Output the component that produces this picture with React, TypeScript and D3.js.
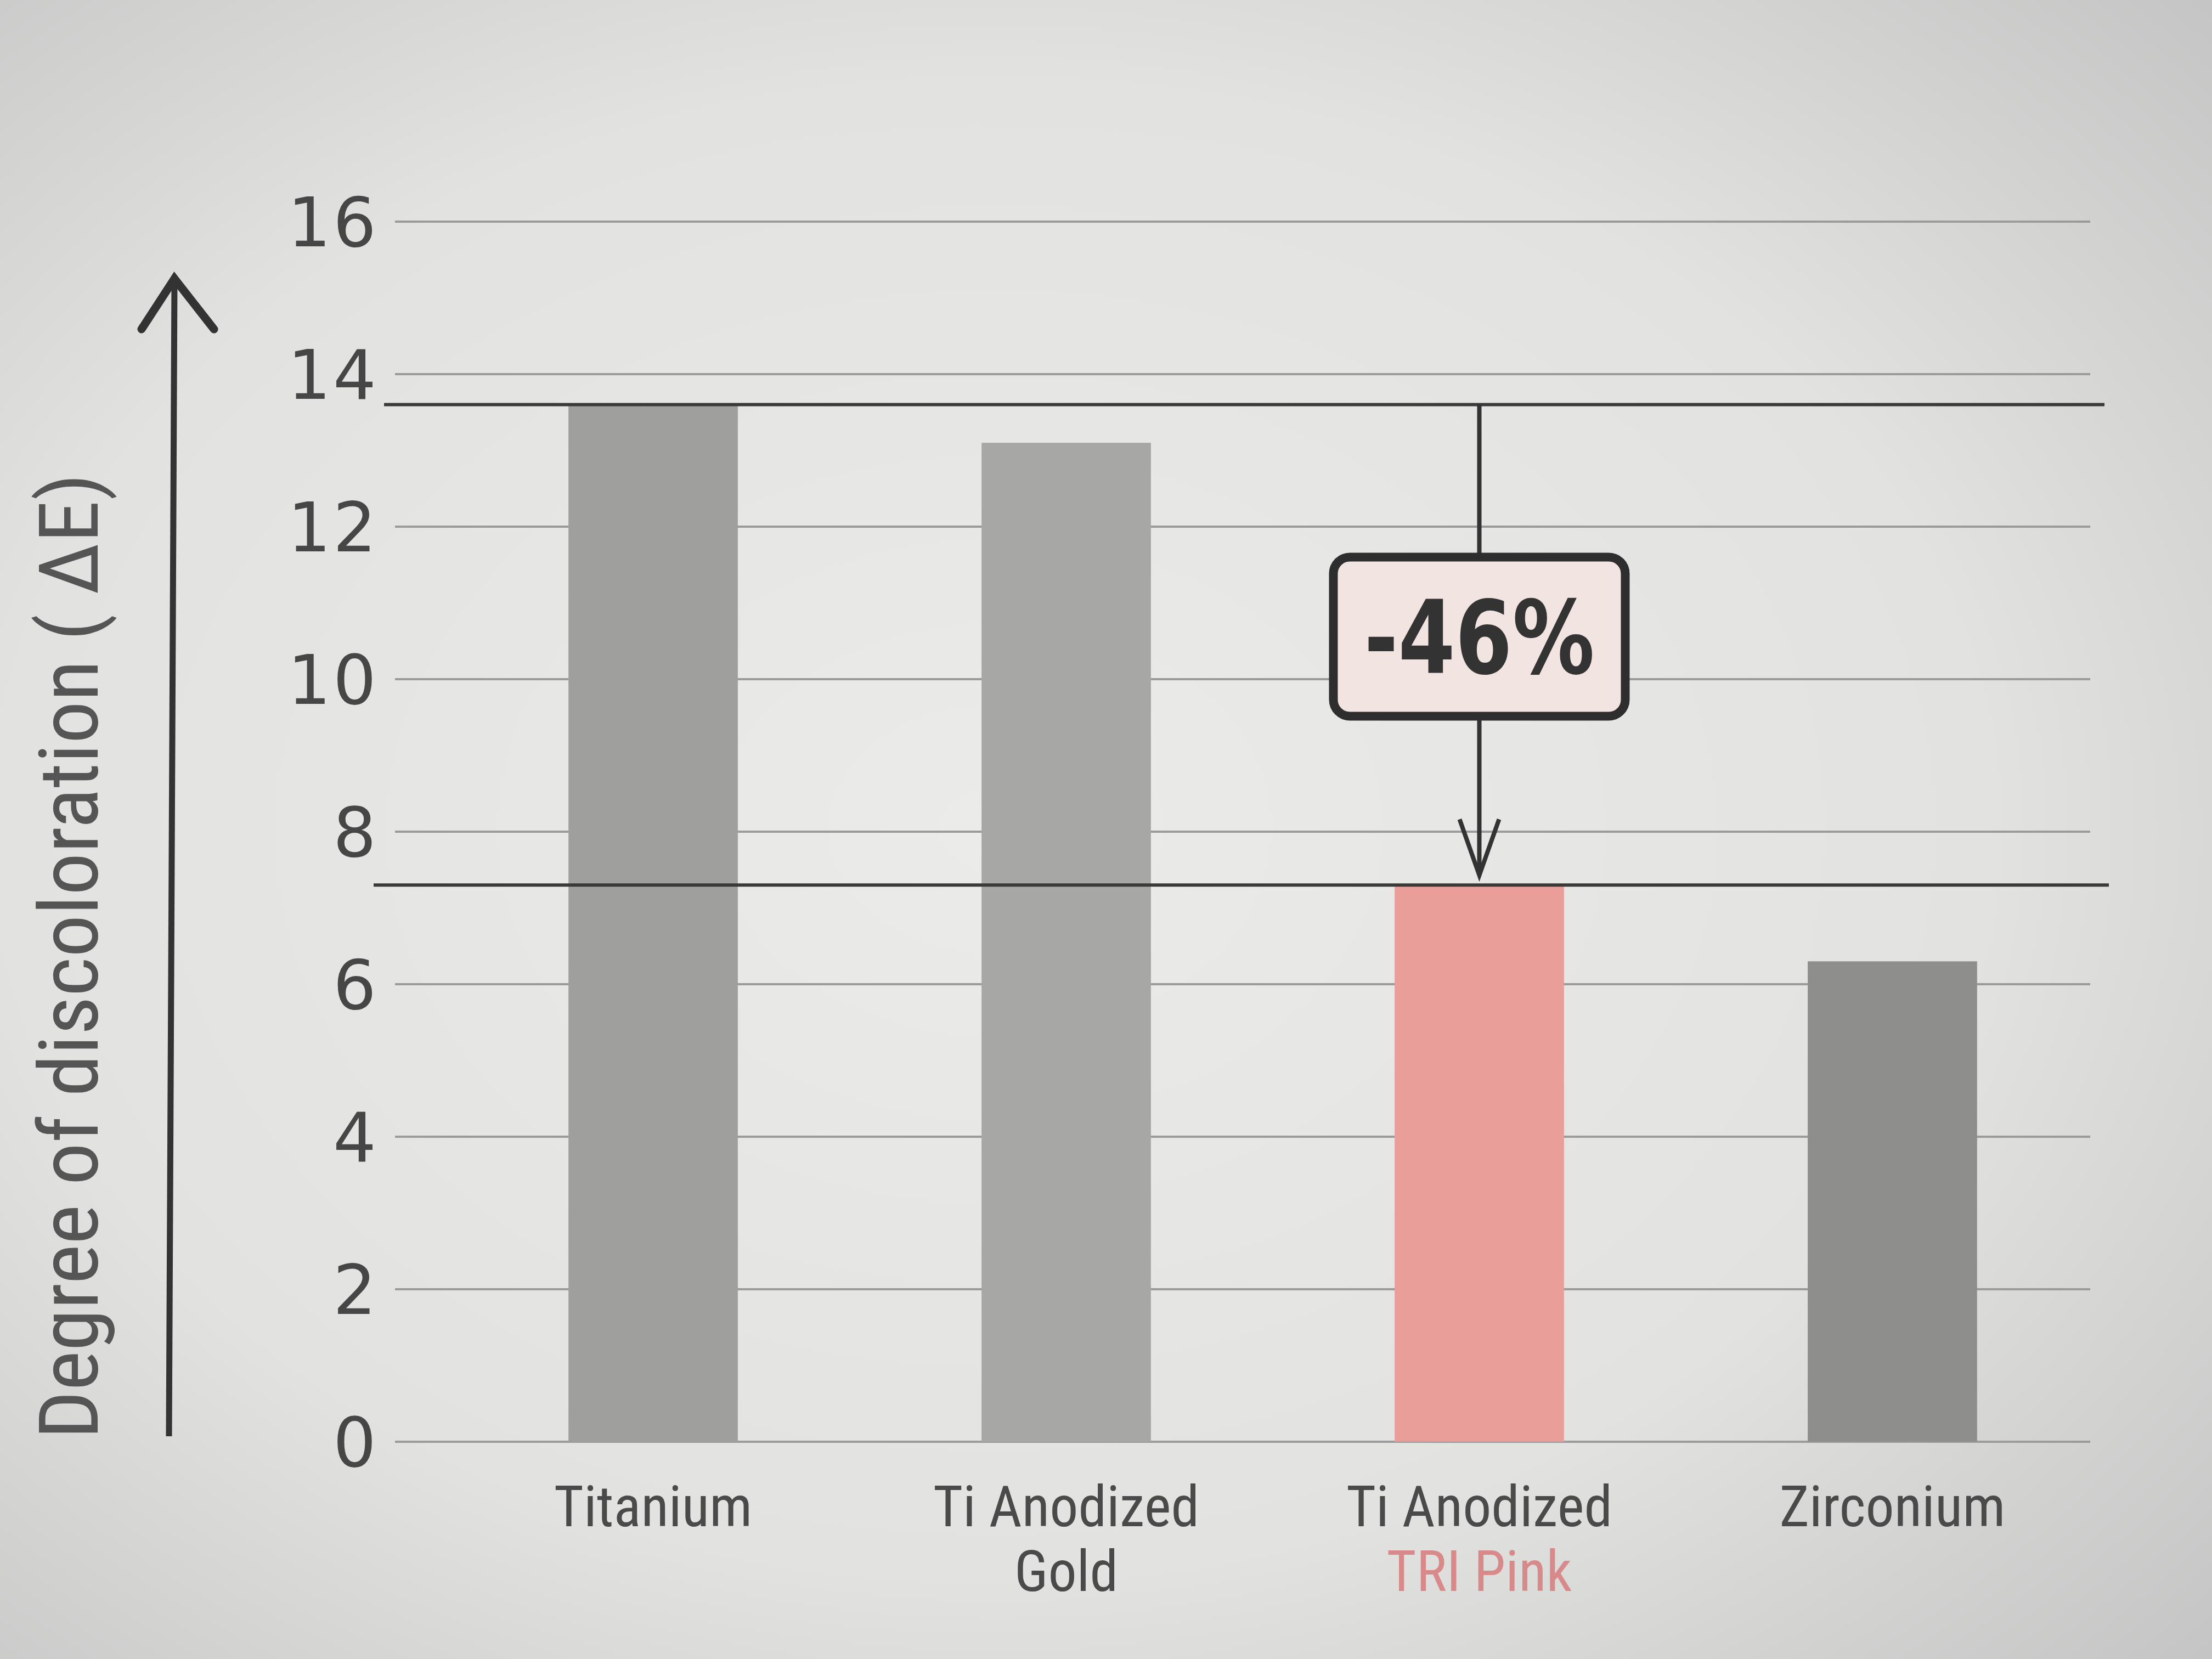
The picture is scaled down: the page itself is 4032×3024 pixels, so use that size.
import * as d3 from "d3";

const categories = ["Titanium", "Ti Anodized Gold", "Ti Anodized TRI Pink", "Zirconium"];
const labelLines = [["Titanium"], ["Ti Anodized", "Gold"], ["Ti Anodized", "TRI Pink"], ["Zirconium"]];
const values = [13.6, 13.1, 7.3, 6.3];
const barColors = ["#9fa09e", "#a7a8a6", "#e99e9a", "#8e8f8d"];
const yTicks = [0, 2, 4, 6, 8, 10, 12, 14, 16];
const compareFrom = 0; // Titanium
const compareTo = 2; // TRI Pink

const W = 4032;
const H = 3024;
const gridLeft = 720;
const gridRight = 3810;

const labelFont = "'Liberation Sans Narrow', 'Roboto Condensed', 'Liberation Sans', sans-serif";

export default function App() {
  const y = d3.scaleLinear().domain([0, 16]).range([2628, 404]);
  const x = d3
    .scaleBand<string>()
    .domain(categories)
    .range([735, 3905])
    .paddingInner(0.59)
    .paddingOuter(0.4);

  const hi = values[compareFrom];
  const lo = values[compareTo];
  const pct = Math.round(((lo - hi) / hi) * 100);
  const ax = (x(categories[compareTo]) ?? 0) + x.bandwidth() / 2;
  const boxCy = (y(hi) + y(lo)) / 2 - 15;
  const boxW = 532;
  const boxH = 290;

  return (
    <svg
      width={W}
      height={H}
      viewBox={`0 0 ${W} ${H}`}
      style={{ position: "absolute", left: 0, top: 0, display: "block" }}
    >
      <defs>
        <radialGradient id="bg" cx="0.45" cy="0.5" r="0.75">
          <stop offset="0" stopColor="#ebebe9" />
          <stop offset="0.6" stopColor="#e2e2e0" />
          <stop offset="1" stopColor="#c4c4c4" />
        </radialGradient>
      </defs>
      <rect width={W} height={H} fill="url(#bg)" />

      {/* grid */}
      {yTicks.map((t) => (
        <line
          key={t}
          x1={gridLeft}
          x2={gridRight}
          y1={y(t)}
          y2={y(t)}
          stroke="#9b9b9b"
          strokeWidth={4}
        />
      ))}

      {/* tick labels */}
      {yTicks.map((t) => (
        <text
          key={t}
          x={690}
          y={y(t)}
          dy="0.36em"
          textAnchor="end"
          fontFamily="'DejaVu Sans', sans-serif"
          fontSize={124}
          fill="#464646"
          letterSpacing={4}
        >
          {t}
        </text>
      ))}

      {/* y title + arrow */}
      <text
        transform={`translate(178, ${1743}) rotate(-90)`}
        textAnchor="middle"
        fontFamily={labelFont}
        fontSize={150}
        fill="#555"
        textLength={1760}
        lengthAdjust="spacingAndGlyphs"
      >
        Degree of discoloration ( ΔE)
      </text>
      <line x1={308} x2={318} y1={y(0) - 10} y2={510} stroke="#333" strokeWidth={11} />
      <polyline
        points={`${258},${600} ${318},${508} ${390},${600}`}
        fill="none"
        stroke="#333"
        strokeWidth={15}
        strokeLinejoin="miter"
        strokeLinecap="round"
      />

      {/* bars */}
      {categories.map((c, i) => (
        <rect
          key={c}
          x={x(c)}
          y={y(values[i])}
          width={x.bandwidth()}
          height={y(0) - y(values[i])}
          fill={barColors[i]}
        />
      ))}

      {/* reference lines */}
      <line x1={700} x2={3836} y1={y(hi)} y2={y(hi)} stroke="#3a3a3a" strokeWidth={6} />
      <line x1={681} x2={3844} y1={y(lo)} y2={y(lo)} stroke="#3a3a3a" strokeWidth={6} />

      {/* reduction arrow */}
      <line x1={ax} x2={ax} y1={y(hi)} y2={y(lo) - 18} stroke="#333" strokeWidth={8} />
      <polyline
        points={`${ax - 36},${y(lo) - 120} ${ax},${y(lo) - 18} ${ax + 36},${y(lo) - 120}`}
        fill="none"
        stroke="#333"
        strokeWidth={8}
      />
      <rect
        x={ax - boxW / 2}
        y={boxCy - boxH / 2}
        width={boxW}
        height={boxH}
        rx={30}
        fill="#f2e4e0"
        stroke="#2e2e2e"
        strokeWidth={16}
      />
      <text
        x={ax}
        y={boxCy}
        dy="0.36em"
        textAnchor="middle"
        fontFamily="'DejaVu Sans', sans-serif"
        fontWeight="bold"
        fontSize={185}
        fill="#333"
        textLength={420}
        lengthAdjust="spacingAndGlyphs"
      >
        {`${pct}%`}
      </text>

      {/* x labels */}
      {categories.map((c, i) =>
        labelLines[i].map((line, j) => (
          <text
            key={c + j}
            x={(x(c) ?? 0) + x.bandwidth() / 2}
            y={2782 + j * 118}
            textAnchor="middle"
            fontFamily={labelFont}
            fontSize={104}
            fill={i === compareTo && j === 1 ? "#d88a8a" : "#4a4a4a"}
          >
            {line}
          </text>
        ))
      )}
    </svg>
  );
}
